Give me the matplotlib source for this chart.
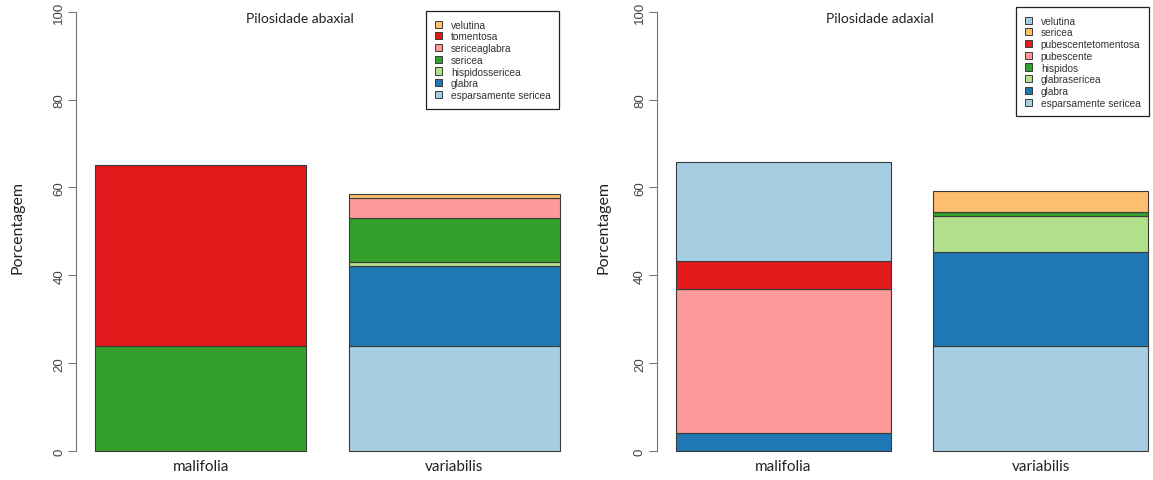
import numpy as np
import matplotlib
matplotlib.use("Agg")
import matplotlib.pyplot as plt
from matplotlib.patches import Patch

# ---------- data (percent) ----------
species = ["malifolia", "variabilis"]

abax_cats = ["esparsamente sericea", "glabra", "hispidossericea", "sericea",
             "sericeaglabra", "tomentosa", "velutina"]
abax_malifolia = [0.0, 0.0, 0.0, 23.9, 0.0, 41.1, 0.0]
abax_variabilis = [23.9, 18.3, 0.8, 10.1, 4.5, 0.0, 1.0]

adax_cats = ["esparsamente sericea", "glabra", "glabrasericea", "hispidos",
             "pubescente", "pubescentetomentosa", "sericea", "velutina"]
adax_malifolia = [0.0, 4.1, 0.0, 0.0, 32.7, 6.5, 0.0, 22.5]
adax_variabilis = [23.9, 21.4, 8.2, 0.9, 0.0, 0.0, 4.7, 0.0]

# R "Paired" palette, first 7 colours recycled
paired = ["#A6CEE3", "#1F78B4", "#B2DF8A", "#33A02C", "#FB9A99", "#E31A1C", "#FDBF6F"]

W, H = 1153, 481
fig = plt.figure(figsize=(W / 100, H / 100), dpi=100)

TXT = "#333333"
label_font = ["Lato", "DejaVu Sans"]
tick_font = ["Liberation Sans", "DejaVu Sans"]


def panel(x0, x1, cats, vals, title, title_x, leg_box, ylab_x):
    y0, y1 = 452, 12.7
    ax = fig.add_axes([x0 / W, 1 - y0 / H, (x1 - x0) / W, (y0 - y1) / H])
    xs = np.array([0.7, 1.9])
    data = np.array(vals)  # shape (species, cats)
    bottom = np.zeros(len(species))
    for k, cat in enumerate(cats):
        h = data[:, k]
        col = paired[k % len(paired)]
        mask = h > 0
        ax.bar(xs[mask], h[mask], width=1.0, bottom=bottom[mask], color=col,
               edgecolor="#3a3a3a", linewidth=0.8, clip_on=False)
        bottom += h
    ax.set_xlim(0.112, 2.488)
    ax.set_ylim(0, 100)
    for s in ["top", "right", "bottom"]:
        ax.spines[s].set_visible(False)
    ax.spines["left"].set_color("#777777")
    ax.set_yticks([0, 20, 40, 60, 80, 100])
    ax.tick_params(axis="y", length=6, color="#777777", labelsize=9.5,
                   labelcolor="#444444", pad=2)
    for t in ax.get_yticklabels():
        t.set_rotation(90)
        t.set_va("center")
        t.set_family(tick_font)
    ax.set_xticks(xs)
    ax.set_xticklabels(species, fontsize=11, color="#222222", family=label_font)
    ax.tick_params(axis="x", length=0, pad=6)

    fig.text(ylab_x / W, 1 - 228 / H, "Porcentagem", rotation=90, ha="center",
             va="center", fontsize=11.5, color="#222222", family=label_font)
    fig.text(title_x / W, 1 - 19 / H, title, ha="center", va="center",
             fontsize=10, color="#222222", family=label_font)

    handles = [Patch(facecolor=paired[k % len(paired)], edgecolor="#3a3a3a",
                     linewidth=0.7, label=c) for k, c in enumerate(cats)][::-1]
    lx, ly = leg_box
    leg = fig.legend(handles=handles, loc="upper left",
                     bbox_to_anchor=(lx / W, 1 - ly / H), frameon=True,
                     fancybox=False, framealpha=1, edgecolor="#222222",
                     prop={"family": tick_font, "size": 7.3},
                     handlelength=0.7, handleheight=0.7, handletextpad=0.9,
                     labelspacing=0.17, borderpad=0.85, borderaxespad=0)
    leg.get_frame().set_linewidth(0.9)
    for t in leg.get_texts():
        t.set_color(TXT)
    return ax


panel(76.4, 578.6, abax_cats, [abax_malifolia, abax_variabilis],
      "Pilosidade abaxial", 300, (426, 12), 18)
panel(657, 1167, adax_cats, [adax_malifolia, adax_variabilis],
      "Pilosidade adaxial", 880, (1016, 8), 603)

fig.savefig("out.png", dpi=100, facecolor="white")
